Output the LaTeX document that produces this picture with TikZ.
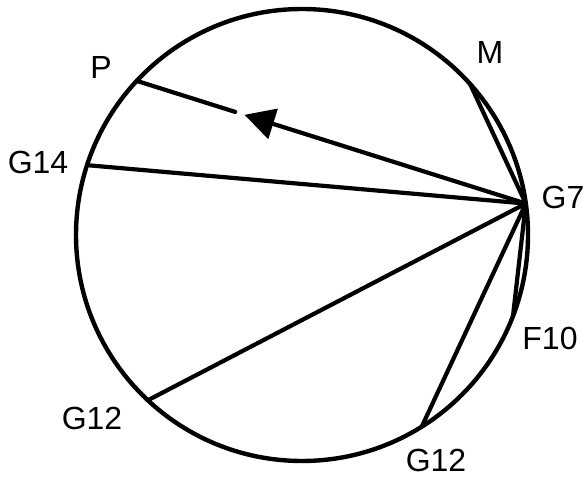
\documentclass[tikz,border=0pt]{standalone}
\usepackage{fontspec}
\setmainfont{Liberation Sans}
\usetikzlibrary{arrows.meta,calc}

\begin{document}
\begin{tikzpicture}[
  x=1pt, y=-1pt,
  rim/.style={
    draw, circle, line width=4.4pt, minimum size=452pt,
    inner sep=0pt, outer sep=0pt
  },
  chord/.style={draw, line width=4.2pt, line cap=round},
  arr/.style={chord, -{Triangle[length=30pt,width=31pt]}},
  lbl/.style={font=\fontsize{32}{36}\selectfont, inner sep=0pt}
]
  \useasboundingbox (0,0) rectangle (588,478);
  \node[rim] (C) at (302,235) {};
  % points on the rim
  \coordinate (G7) at (C.8);
  \coordinate (M) at (C.42);
  \coordinate (P) at (C.137);
  \coordinate (G14) at (C.162);
  \coordinate (G12a) at (C.227);
  \coordinate (G12b) at (C.302);
  \coordinate (F10) at (C.339);
  % labels
  \node[lbl] (lM) at (490,52) {M};
  \node[lbl] (lG7) at (563,197) {G7};
  \node[lbl] (lF10) at (550,338) {F10};
  \node[lbl] (lG12b) at (436,460) {G12};
  \node[lbl] (lG12a) at (92,418) {G12};
  \node[lbl] (lG14) at (38,162) {G14};
  \node[lbl] (lP) at (101,67) {P};
  % chords
  \draw[chord] (G7) -- (M);
  \draw[chord] (G7) -- (G14);
  \draw[chord] (G7) -- (G12a);
  \draw[chord] (G7) -- (G12b);
  \draw[chord] (G7) -- (F10);
  \draw[arr] (G7) -- ($(P)!0.277!(G7)$);
  \draw[chord] (P) -- ($(P)!0.253!(G7)$);
\end{tikzpicture}
\end{document}
